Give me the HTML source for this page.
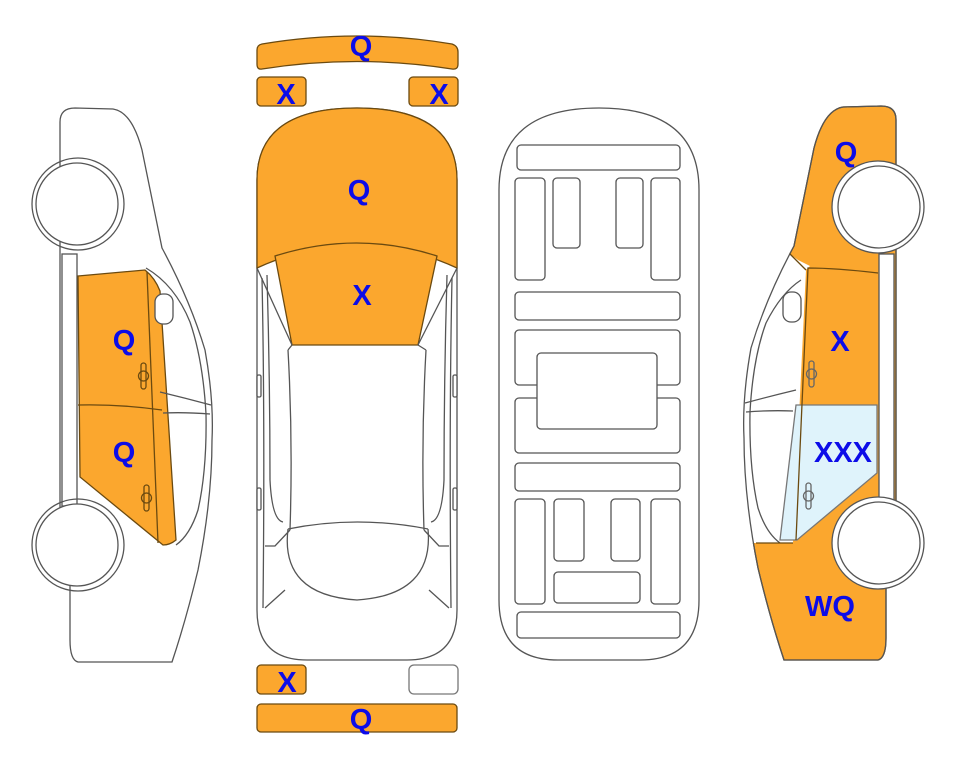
<!DOCTYPE html>
<html><head><meta charset="utf-8"><style>
html,body{margin:0;padding:0;background:#fff;}
svg{display:block}
text{font-family:"Liberation Sans",Arial,sans-serif;font-weight:bold;fill:#0c0ce8;font-size:29px;text-anchor:middle}
</style></head><body>
<svg width="963" height="768" viewBox="0 0 963 768" xmlns="http://www.w3.org/2000/svg">
<defs>
<path id="outline" d="M60,122 Q60,108 75,108 L113,109 Q132,112 142,150 Q152,200 162,248 Q190,300 205,350 Q214,400 212,440 Q212,500 198,570 Q186,620 172,662 L78,662 Q70,660 70,640 L70,580 L60,560 L60,180 Z"/>
<path id="glass" d="M146,268 L158,262 L166,256 L240,256 L240,545 L163,545 L150,272 Z"/>
</defs>

<!-- LEFT CAR -->
<g stroke="#555" stroke-width="1.3" fill="#fff">
  <use href="#outline"/>
  <path d="M146,268 Q175,285 190,322 Q203,360 206,414 Q207,470 198,510 Q190,535 176,545" fill="none"/>
  <rect x="62" y="254" width="15" height="252" />
  <path d="M78,276 L145,270 Q155,278 160,291 L176,540 Q170,545 163,545 L80,477 Z" fill="#fba72e" stroke="#6b4a10"/>
  <path d="M78,405 Q120,404 162,410" fill="none" stroke="#6b4a10"/>
  <path d="M147,272 L158,543" fill="none" stroke="#6b4a10"/>
  <rect x="155" y="294" width="18" height="30" rx="8" fill="#fff"/>
  <path d="M160,392 Q185,398 211,405 M163,413 Q185,412 210,414" fill="none"/>
  <circle cx="78" cy="204" r="46" fill="none"/>
  <circle cx="77" cy="204" r="41"/>
  <circle cx="78" cy="545" r="46" fill="none"/>
  <circle cx="77" cy="545" r="41"/>
  <g fill="none" stroke="#6b4a10"><rect x="141" y="363" width="5" height="26" rx="2.5"/><circle cx="143.5" cy="376" r="5"/>
  <rect x="144" y="485" width="5" height="26" rx="2.5"/><circle cx="146.5" cy="498" r="5"/></g>
</g>
<text x="124" y="350">Q</text>
<text x="124" y="462">Q</text>

<!-- RIGHT CAR (mirrored) -->
<g transform="translate(956,-2) scale(-1,1)" stroke="#555" stroke-width="1.3">
  <use href="#outline" fill="#fba72e" stroke="#6b4a10"/>
  <use href="#glass" fill="#fff" stroke="none"/>
  <use href="#outline" fill="none" stroke="#555"/>
  <path d="M150,272 L166,256" fill="none" stroke="#6b4a10"/>
  <path d="M155,282 Q175,295 190,325 Q203,360 206,414 Q207,470 198,510 Q190,535 176,545" fill="none"/>
  <rect x="62" y="256" width="15" height="250" fill="#fff"/>
  <path d="M160,392 Q185,398 211,405 M163,413 Q185,412 210,414" fill="none"/>
  <rect x="155" y="294" width="18" height="30" rx="8" fill="#fff"/>
  <path d="M79,407 L160,407 L176,542 L159,542 L79,475 Z" fill="#dff3fb" stroke="#777"/>
  <path d="M78,275 Q120,270 148,270 L160,542" fill="none" stroke="#6b4a10"/>
  <path d="M163,545 L200,545" fill="none" stroke="#6b4a10"/>
  <circle cx="78" cy="209" r="46" fill="#fff"/>
  <circle cx="77" cy="209" r="41" fill="#fff"/>
  <circle cx="78" cy="545" r="46" fill="#fff"/>
  <circle cx="77" cy="545" r="41" fill="#fff"/>
  <g fill="none" stroke="#666"><rect x="142" y="363" width="5" height="26" rx="2.5"/><circle cx="144.5" cy="376" r="5"/>
  <rect x="145" y="485" width="5" height="26" rx="2.5"/><circle cx="147.5" cy="498" r="5"/></g>
</g>
<text x="846" y="162">Q</text>
<text x="840" y="351">X</text>
<text x="843" y="462">XXX</text>
<text x="830" y="616">WQ</text>

<!-- CENTER TOP CAR -->
<g stroke="#555" stroke-width="1.3" fill="#fff">
  <path d="M257,180 Q257,108 357,108 Q457,108 457,180 L457,610 Q457,660 407,660 L307,660 Q257,660 257,610 Z"/>
  <path d="M257,180 Q257,108 357,108 Q457,108 457,180 L457,268 Q357,222 257,268 Z" fill="#fba72e" stroke="#6b4a10"/>
  <path d="M275,256 Q357,230 437,256 L418,345 L292,345 Z" fill="#fba72e" stroke="#6b4a10"/>
  <path d="M257,268 L292,345 M457,268 L418,345" fill="none"/>
  <path d="M288,350 L292,345 M288,350 Q293,440 290,530 M426,350 L418,345 M426,350 Q421,440 424,530" fill="none"/>
  <path d="M262,278 Q265,420 263,608 M452,278 Q449,420 451,608" fill="none"/>
  <path d="M267,275 Q270,380 270,480 Q272,520 283,522 M447,275 Q444,380 444,480 Q442,520 431,522" fill="none"/>
  <path d="M288,529 Q357,515 428,529" fill="none"/>
  <path d="M290,530 L275,546 L265,546 M424,530 L439,546 L449,546" fill="none"/>
  <path d="M288,529 Q280,595 357,600 Q434,595 428,529" fill="none"/>
  <path d="M285,590 L265,608 M429,590 L449,608" fill="none"/>
  <rect x="257" y="375" width="4" height="22" rx="1.5"/><rect x="453" y="375" width="4" height="22" rx="1.5"/>
  <rect x="257" y="488" width="4" height="22" rx="1.5"/><rect x="453" y="488" width="4" height="22" rx="1.5"/>
</g>
<text x="359" y="200">Q</text>
<text x="362" y="305">X</text>

<!-- bumpers -->
<g stroke="#6b4a10" stroke-width="1.3" fill="#fba72e">
  <path d="M262,44 Q357,28 452,44 Q458,46 458,52 L458,64 Q458,70 452,69 Q357,54 262,69 Q257,70 257,64 L257,50 Q257,45 262,44 Z"/>
  <rect x="257" y="77" width="49" height="29" rx="4"/>
  <rect x="409" y="77" width="49" height="29" rx="4"/>
  <rect x="257" y="665" width="49" height="29" rx="4"/>
  <rect x="409" y="665" width="49" height="29" rx="5" fill="#fff" stroke="#777"/>
  <rect x="257" y="704" width="200" height="28" rx="4"/>
</g>
<text x="361" y="56">Q</text>
<text x="286" y="104">X</text>
<text x="439" y="104">X</text>
<text x="287" y="692">X</text>
<text x="361" y="729">Q</text>

<!-- BOTTOM-VIEW CAR -->
<g stroke="#555" stroke-width="1.3" fill="#fff">
  <path d="M499,190 Q499,108 599,108 Q699,108 699,190 L699,600 Q699,660 640,660 L558,660 Q499,660 499,600 Z"/>
  <rect x="517" y="145" width="163" height="25" rx="4"/>
  <rect x="515" y="178" width="30" height="102" rx="4"/>
  <rect x="553" y="178" width="27" height="70" rx="4"/>
  <rect x="616" y="178" width="27" height="70" rx="4"/>
  <rect x="651" y="178" width="29" height="102" rx="4"/>
  <rect x="515" y="292" width="165" height="28" rx="4"/>
  <rect x="515" y="330" width="165" height="55" rx="4"/>
  <rect x="515" y="398" width="165" height="55" rx="4"/>
  <rect x="537" y="353" width="120" height="76" rx="4"/>
  <rect x="515" y="463" width="165" height="28" rx="4"/>
  <rect x="515" y="499" width="30" height="105" rx="4"/>
  <rect x="554" y="499" width="30" height="62" rx="4"/>
  <rect x="611" y="499" width="29" height="62" rx="4"/>
  <rect x="651" y="499" width="29" height="105" rx="4"/>
  <rect x="554" y="572" width="86" height="31" rx="4"/>
  <rect x="517" y="612" width="163" height="26" rx="4"/>
</g>
</svg>
</body></html>
